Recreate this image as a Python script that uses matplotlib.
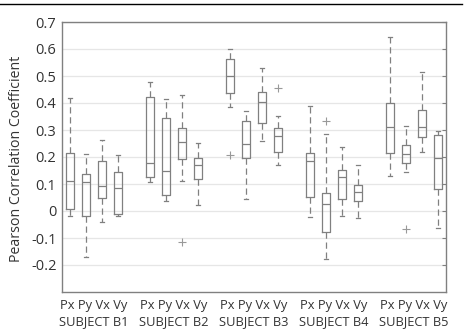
import matplotlib
matplotlib.use("Agg")
import matplotlib.pyplot as plt
from matplotlib.lines import Line2D

plt.rcParams['font.family'] = ['Open Sans', 'DejaVu Sans']

subjects = ["SUBJECT B1", "SUBJECT B2", "SUBJECT B3", "SUBJECT B4", "SUBJECT B5"]
variables = ["Px", "Py", "Vx", "Vy"]

# per box: [lower whisker, q1, median, q3, upper whisker], ordered B1 Px..Vy, B2 Px..Vy, ...
whislo = [-0.020, -0.172, -0.042, -0.020,
          0.106, 0.036, 0.112, 0.023,
          0.387, 0.044, 0.260, 0.171,
          -0.024, -0.178, -0.020, -0.026,
          0.128, 0.144, 0.218, -0.063]
q1 = [0.007, -0.020, 0.048, -0.010,
      0.126, 0.060, 0.193, 0.118,
      0.437, 0.196, 0.327, 0.220,
      0.051, -0.079, 0.046, 0.036,
      0.213, 0.178, 0.273, 0.081]
med = [0.111, 0.106, 0.091, 0.084,
       0.179, 0.150, 0.254, 0.171,
       0.499, 0.249, 0.402, 0.278,
       0.184, 0.027, 0.126, 0.070,
       0.311, 0.211, 0.310, 0.196]
q3 = [0.216, 0.138, 0.187, 0.146,
      0.423, 0.343, 0.307, 0.195,
      0.563, 0.332, 0.441, 0.309,
      0.215, 0.067, 0.153, 0.096,
      0.401, 0.246, 0.374, 0.280]
whishi = [0.417, 0.212, 0.263, 0.206,
          0.478, 0.415, 0.428, 0.251,
          0.600, 0.371, 0.530, 0.352,
          0.390, 0.287, 0.236, 0.170,
          0.646, 0.315, 0.516, 0.296]
outliers = [[], [], [], [],
            [], [], [-0.115], [],
            [0.206], [], [], [0.454],
            [], [0.334], [], [],
            [], [-0.067], [], []]

fig = plt.figure(figsize=(4.66, 3.34), dpi=100)
ax = fig.add_axes([62/466, 1-292/334, (446-62)/466, (292-22)/334])

stats = []
positions = []
for i in range(len(med)):
    g, k = divmod(i, 4)
    positions.append(g * 5 + k + 1)
    stats.append(dict(whislo=whislo[i], q1=q1[i], med=med[i], q3=q3[i],
                      whishi=whishi[i], fliers=outliers[i]))

gray = '#808080'
ax.bxp(stats, positions=positions, widths=0.55, showfliers=True,
       boxprops=dict(color=gray, linewidth=0.9),
       medianprops=dict(color=gray, linewidth=0.9),
       whiskerprops=dict(color=gray, linewidth=0.9, linestyle=(0, (5, 3))),
       capprops=dict(color=gray, linewidth=0.9),
       flierprops=dict(marker='+', markeredgecolor='#999999', markersize=6,
                       markeredgewidth=0.8),
       capwidths=0.2)

ax.set_xlim(0.5, 24.5)
ax.set_ylim(-0.3, 0.7)
yt = [-0.2, -0.1, 0, 0.1, 0.2, 0.3, 0.4, 0.5, 0.6, 0.7]
ax.set_yticks(yt)
ax.set_yticklabels(['-0.2', '-0.1', '0', '0.1', '0.2', '0.3', '0.4', '0.5', '0.6', '0.7'])
ax.yaxis.grid(True, color='#e6e6e6', linewidth=0.9)
ax.set_axisbelow(True)
ax.tick_params(axis='y', direction='in', length=3, color=gray, labelsize=10.5,
               labelcolor='#333333', right=True, left=False, pad=4)

ax.set_xticks([g * 5 + 2.5 for g in range(5)])
ax.set_xticklabels([" ".join(variables) + "\n" + s for s in subjects],
                   fontsize=9.3, color='#333333', linespacing=1.3)
ax.tick_params(axis='x', length=0, pad=5)

for sp in ax.spines.values():
    sp.set_color(gray)
    sp.set_linewidth(1.0)

ax.set_ylabel("Pearson Correlation Coefficient", fontsize=10.2, color='#333333')
ax.yaxis.set_label_coords(-0.099, 0.494)

fig.add_artist(Line2D([0, 462/466], [1-4/334, 1-4/334], color='black', linewidth=1.0,
                      transform=fig.transFigure))

fig.savefig("out.png", dpi=100)
